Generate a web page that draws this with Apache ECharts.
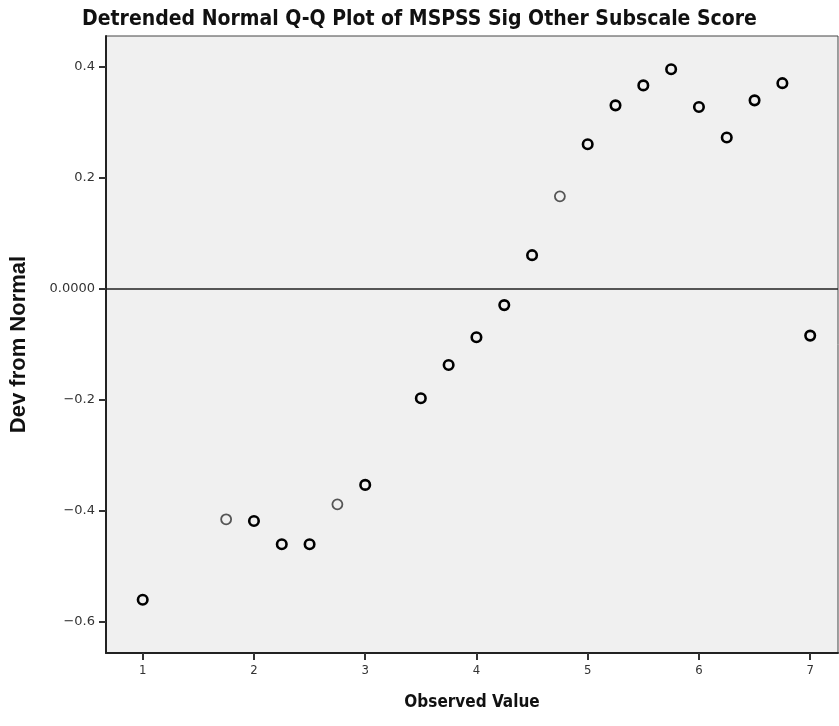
<!DOCTYPE html>
<html><head><meta charset="utf-8">
<script src="https://cdn.jsdelivr.net/npm/echarts@6/dist/echarts.min.js"></script>
<style>html,body{margin:0;padding:0;background:#fff}#c{width:839px;height:726px}</style>
</head><body><div id="c"></div>
<script>
const observed = [1, 1.75, 2, 2.25, 2.5, 2.75, 3, 3.5, 3.75, 4, 4.25, 4.5, 4.75, 5, 5.25, 5.5, 5.75, 6, 6.25, 6.5, 6.75, 7];
const devFromNormal = [-0.560, -0.415, -0.418, -0.460, -0.460, -0.388, -0.353, -0.197, -0.137, -0.087, -0.029, 0.061, 0.167, 0.261, 0.331, 0.367, 0.396, 0.328, 0.273, 0.340, 0.371, -0.084];
const singleObs = [1.75, 2.75, 4.75];
const xTicks = [1, 2, 3, 4, 5, 6, 7];
const yTicks = [-0.6, -0.4, -0.2, 0, 0.2, 0.4];

const lightPts = [], darkPts = [];
observed.forEach((x, i) => {
  (singleObs.includes(x) ? lightPts : darkPts).push([x, devFromNormal[i]]);
});

const chart = echarts.init(document.getElementById('c'), null, {renderer: 'canvas'});
const tickFont = {color: '#333', fontSize: 13, fontFamily: 'DejaVu Sans'};
const condensed = "'DejaVu Sans Condensed', 'Liberation Sans', sans-serif";
chart.setOption({
  animation: false,
  backgroundColor: '#fff',
  title: {
    text: 'Detrended Normal Q-Q Plot of MSPSS Sig Other Subscale Score',
    left: 'center', top: 4,
    textStyle: {fontSize: 21, fontWeight: 'bold', fontFamily: condensed, color: '#111'}
  },
  grid: {left: 106, top: 36, right: 1, bottom: 73, show: true, backgroundColor: '#f0f0f0', borderColor: '#444', borderWidth: 1},
  xAxis: {
    type: 'value', min: 0.67, max: 7.25,
    name: 'Observed Value', nameLocation: 'middle', nameGap: 41,
    nameTextStyle: {fontSize: 17, fontWeight: 'bold', fontFamily: condensed, color: '#111'},
    axisLine: {show: true, onZero: false, lineStyle: {color: '#222', width: 2}},
    axisTick: {show: true, customValues: xTicks, length: 7, lineStyle: {color: '#333', width: 2}},
    axisLabel: Object.assign({customValues: xTicks, margin: 11}, tickFont, {fontFamily: condensed}),
    splitLine: {show: false}
  },
  yAxis: {
    type: 'value', min: -0.656, max: 0.456,
    name: 'Dev from Normal', nameLocation: 'middle', nameGap: 76,
    nameTextStyle: {fontSize: 22, fontWeight: 'bold', fontFamily: 'Liberation Sans', color: '#111'},
    axisLine: {show: true, onZero: false, lineStyle: {color: '#222', width: 2}},
    axisTick: {show: true, customValues: yTicks, length: 7, lineStyle: {color: '#333', width: 2}},
    axisLabel: Object.assign({customValues: yTicks, margin: 11,
      formatter: v => v === 0 ? '0.0000' : v.toFixed(1).replace('-', '\u2212')}, tickFont),
    splitLine: {show: false}
  },
  series: [
    {
      type: 'scatter', data: darkPts, symbol: 'circle', symbolSize: 9.5,
      itemStyle: {color: '#f0f0f0', borderColor: '#000', borderWidth: 2.6, opacity: 1},
      markLine: {silent: true, symbol: 'none', label: {show: false},
        lineStyle: {color: '#222', width: 1.5, type: 'solid'}, data: [{yAxis: 0}]},
      z: 3
    },
    {
      type: 'scatter', data: lightPts, symbol: 'circle', symbolSize: 10,
      itemStyle: {color: '#f0f0f0', borderColor: '#555', borderWidth: 1.8, opacity: 1},
      z: 3
    }
  ]
});
</script></body></html>
